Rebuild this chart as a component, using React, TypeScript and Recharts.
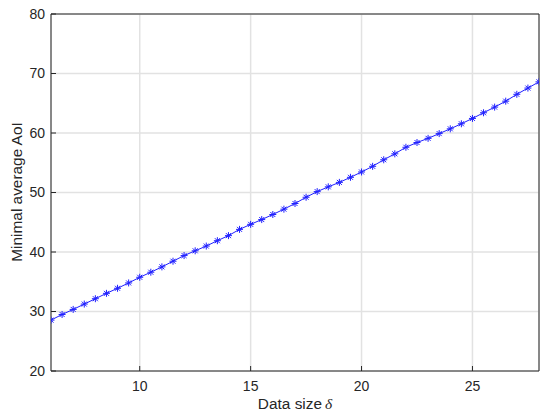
import React from 'react';
import { LineChart, Line, XAxis, YAxis, CartesianGrid, Label } from 'recharts';

const dataSizes = [
  6, 6.5, 7, 7.5, 8, 8.5, 9, 9.5, 10, 10.5, 11, 11.5, 12, 12.5, 13, 13.5, 14, 14.5,
  15, 15.5, 16, 16.5, 17, 17.5, 18, 18.5, 19, 19.5, 20, 20.5, 21, 21.5, 22, 22.5,
  23, 23.5, 24, 24.5, 25, 25.5, 26, 26.5, 27, 27.5, 28,
];
const minAvgAoI = [
  28.55, 29.5, 30.35, 31.25, 32.15, 33.05, 33.9, 34.8, 35.75, 36.6, 37.5, 38.45, 39.4,
  40.2, 41.0, 41.9, 42.75, 43.8, 44.65, 45.45, 46.3, 47.2, 48.15, 49.2, 50.15, 50.95,
  51.7, 52.55, 53.45, 54.4, 55.5, 56.5, 57.6, 58.4, 59.1, 59.9, 60.7, 61.55, 62.45,
  63.4, 64.35, 65.35, 66.5, 67.55, 68.6,
];
const xTicks = [10, 15, 20, 25];
const yTicks = [20, 30, 40, 50, 60, 70, 80];

const chartData = dataSizes.map((x, i) => ({ x, aoi: minAvgAoI[i] }));

const axisColor = '#262626';
const font = '"Liberation Sans", Arial, Helvetica, sans-serif';

// matlab-style '*' marker
const Star = (props: any) => {
  const { cx, cy } = props;
  if (cx == null || cy == null) return null;
  const r = 3.5;
  const d = 2.5;
  return (
    <g stroke="#2020ff" strokeWidth={1} key={`s-${cx}`}>
      <line x1={cx - r} y1={cy} x2={cx + r} y2={cy} />
      <line x1={cx} y1={cy - r} x2={cx} y2={cy + r} />
      <line x1={cx - d} y1={cy - d} x2={cx + d} y2={cy + d} />
      <line x1={cx - d} y1={cy + d} x2={cx + d} y2={cy - d} />
    </g>
  );
};

export default function App() {
  return (
    <div style={{ position: 'absolute', left: 0, top: 0, background: '#fff', fontFamily: font }}>
      <LineChart
        width={550}
        height={420}
        data={chartData}
        margin={{ top: 13, right: 10, left: 6, bottom: 19 }}
      >
        <CartesianGrid stroke="#e2e2e2" strokeWidth={1.5} />
        <XAxis
          dataKey="x"
          type="number"
          domain={[6, 28]}
          ticks={xTicks}
          height={30}
          allowDataOverflow
          tickSize={-5}
          tickMargin={15.5}
          stroke={axisColor}
          tick={{ fill: axisColor, fontSize: 14, fontFamily: font }}
        >
          <Label
            content={() => (
              <text x={295} y={409} textAnchor="middle" fill={axisColor} fontSize={15.4} fontFamily={font}>
                Data size
                <tspan fontFamily='"Liberation Serif", "Times New Roman", serif' fontStyle="italic" dx={3}>
                  δ
                </tspan>
              </text>
            )}
          />
        </XAxis>
        <XAxis
          xAxisId="top"
          orientation="top"
          dataKey="x"
          type="number"
          domain={[6, 28]}
          ticks={xTicks}
          height={1}
          allowDataOverflow
          tickSize={-5}
          tick={false}
          stroke={axisColor}
        />
        <YAxis
          type="number"
          domain={[20, 80]}
          ticks={yTicks}
          width={45}
          allowDataOverflow
          tickSize={-5}
          tickMargin={11}
          stroke={axisColor}
          tick={{ fill: axisColor, fontSize: 14, fontFamily: font }}
        >
          <Label
            content={() => (
              <text
                x={0}
                y={0}
                transform="translate(22,192) rotate(-90)"
                textAnchor="middle"
                fill={axisColor}
                fontSize={15.4}
                fontFamily={font}
              >
                Minimal average AoI
              </text>
            )}
          />
        </YAxis>
        <YAxis
          yAxisId="right"
          orientation="right"
          type="number"
          domain={[20, 80]}
          ticks={yTicks}
          width={1}
          allowDataOverflow
          tickSize={-5}
          tick={false}
          stroke={axisColor}
        />
        <Line
          dataKey="aoi"
          stroke="#2020ff"
          strokeWidth={1}
          dot={<Star />}
          activeDot={false}
          isAnimationActive={false}
        />
      </LineChart>
    </div>
  );
}
